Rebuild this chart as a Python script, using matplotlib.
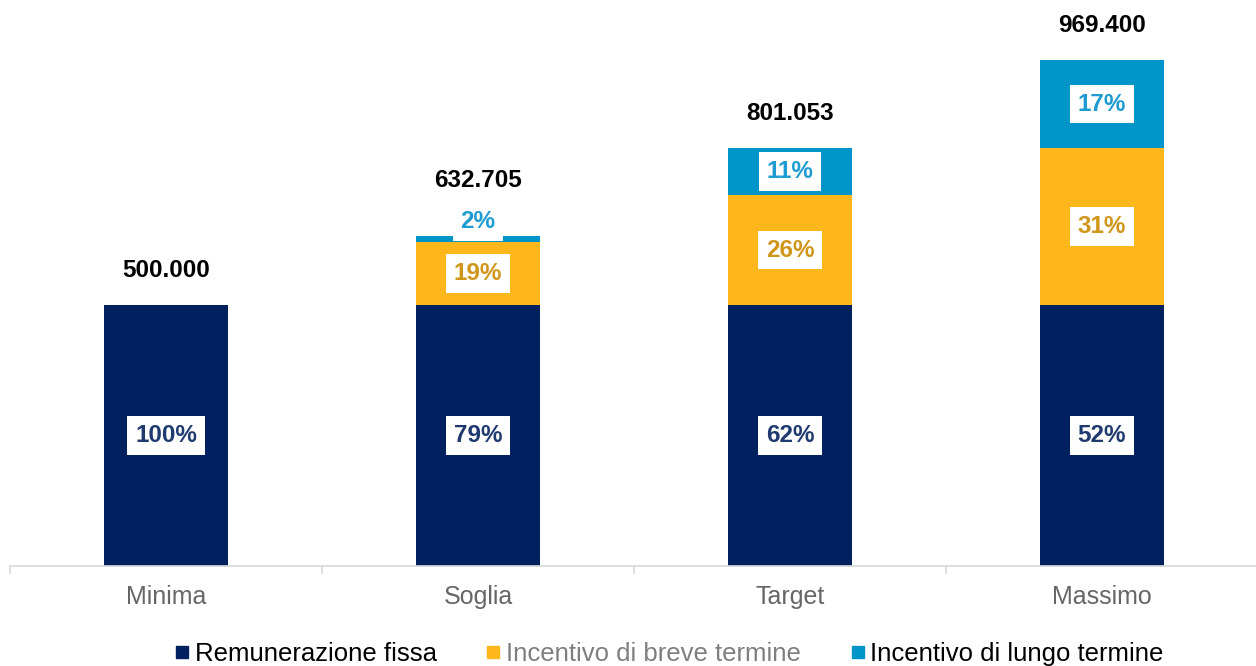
import matplotlib.pyplot as plt
from matplotlib.lines import Line2D
import numpy as np

plt.rcParams['font.family'] = ['Liberation Sans', 'DejaVu Sans']

# dati
categorie = ['Minima', 'Soglia', 'Target', 'Massimo']
fissa = [500000, 500000, 500000, 500000]
breve = [0, 120000, 210000, 300000]
lungo = [0, 12705, 91053, 169400]
serie_nomi = ['Remunerazione fissa', 'Incentivo di breve termine', 'Incentivo di lungo termine']

col_fissa = '#002060'
col_breve = '#FDB71A'
col_lungo = '#0095C8'
txt_fissa = '#1F3A6E'
txt_breve = '#D0961A'
txt_lungo = '#1E9BD0'

fig = plt.figure(figsize=(12.56, 6.66), dpi=100)
ax = fig.add_axes([10 / 1256, 100 / 666, 1248 / 1256, 566 / 666])

x = np.arange(len(categorie))
w = 0.4
fissa = np.array(fissa)
breve = np.array(breve)
lungo = np.array(lungo)
totale = fissa + breve + lungo

ax.bar(x, fissa, w, color=col_fissa)
ax.bar(x, breve, w, bottom=fissa, color=col_breve)
ax.bar(x, lungo, w, bottom=fissa + breve, color=col_lungo)

fs = 17.5
box = dict(boxstyle='square,pad=0.32', fc='white', ec='none')
for i in range(len(categorie)):
    tot = totale[i]
    ax.text(x[i], fissa[i] / 2, f'{round(fissa[i] / tot * 100)}%', ha='center', va='center',
            fontsize=fs, fontweight='bold', color=txt_fissa, bbox=box)
    extra = 0
    if breve[i] > 0:
        ax.text(x[i], fissa[i] + breve[i] / 2, f'{round(breve[i] / tot * 100)}%', ha='center',
                va='center', fontsize=fs, fontweight='bold', color=txt_breve, bbox=box)
    if lungo[i] > 0:
        pct = f'{round(lungo[i] / tot * 100)}%'
        if lungo[i] < 40000:
            # segmento troppo sottile: etichetta sopra la barra
            ax.annotate(pct, (x[i], tot), xytext=(0, 10), textcoords='offset points',
                        ha='center', va='center', fontsize=fs, fontweight='bold',
                        color=txt_lungo, bbox=box)
            extra = 15
        else:
            ax.text(x[i], fissa[i] + breve[i] + lungo[i] / 2, pct, ha='center', va='center',
                    fontsize=fs, fontweight='bold', color=txt_lungo, bbox=box)
    ax.annotate(f'{tot:,}'.replace(',', '.'), (x[i], tot), xytext=(0, 25 + extra),
                textcoords='offset points', ha='center', va='center', fontsize=fs,
                fontweight='bold', color='black')

ax.set_xlim(-0.5, 3.5)
ax.set_ylim(0, 1084300)
ax.set_yticks([])
for s in ['left', 'right', 'top']:
    ax.spines[s].set_visible(False)
ax.spines['bottom'].set_color('#D9D9D9')
ax.spines['bottom'].set_linewidth(1.2)

ax.set_xticks(x)
ax.set_xticklabels(categorie, fontsize=18, color='#666666')
ax.tick_params(axis='x', which='major', length=0, pad=14)
ax.set_xticks(np.arange(-0.5, 4, 1), minor=True)
ax.tick_params(axis='x', which='minor', length=6, color='#D9D9D9', width=1.2)

handles = [Line2D([], [], marker='s', linestyle='none', markersize=8, color=c)
           for c in [col_fissa, col_breve, col_lungo]]
leg = fig.legend(handles, serie_nomi, loc='center', bbox_to_anchor=(669 / 1256, 12 / 666),
                 ncol=3, frameon=False, fontsize=18.5, handlelength=0.6, handletextpad=0.2,
                 columnspacing=1.9, borderpad=0,
                 labelcolor=['black', '#7F7F7F', 'black'])

fig.savefig('out.png', dpi=100)
